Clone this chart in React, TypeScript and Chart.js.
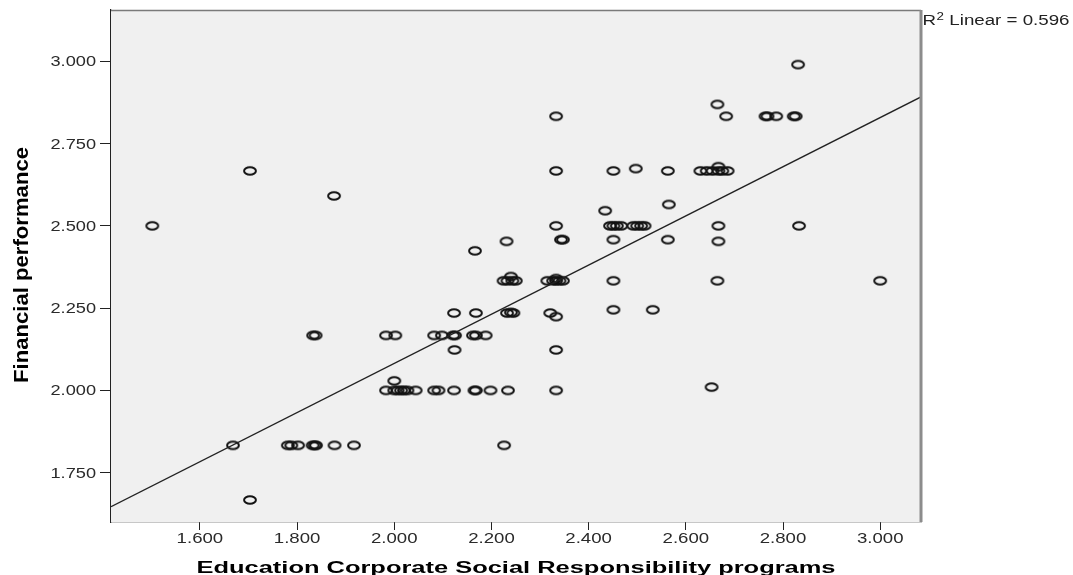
import { useEffect, useRef } from 'react';
import { Chart, registerables } from 'chart.js';

Chart.register(...registerables);

// ---- data ----
const xTickValues = [1.6, 1.8, 2.0, 2.2, 2.4, 2.6, 2.8, 3.0];
const yTickValues = [1.75, 2.0, 2.25, 2.5, 2.75, 3.0];

const xTitle = 'Education Corporate Social Responsibility programs';
const yTitle = 'Financial performance';
const fitLabel = ' Linear = 0.596';

// fitted line: y = fitIntercept + fitSlope * x
const fitIntercept = 0.588;
const fitSlope = 0.747;

const xValues = [
  2.831,
  2.665,
  2.333, 2.683, 2.764, 2.768, 2.786, 2.822, 2.826,
  1.703, 2.333, 2.451, 2.497, 2.563, 2.630, 2.643, 2.655, 2.667, 2.667, 2.675, 2.686,
  1.876, 2.565, 2.434,
  1.502, 2.333, 2.444, 2.451, 2.458, 2.467, 2.492, 2.500, 2.508, 2.515, 2.667, 2.833,
  2.343, 2.347, 2.451, 2.563, 2.667,
  2.231, 2.166,
  2.225, 2.233, 2.240, 2.243, 2.250, 2.315, 2.327, 2.333, 2.333, 2.340, 2.347, 2.451, 2.665, 3.000,
  2.123, 2.168, 2.232, 2.240, 2.245, 2.321, 2.333, 2.451, 2.532,
  1.833, 1.838, 1.983, 2.002, 2.082, 2.098, 2.121, 2.125, 2.162, 2.168, 2.188,
  2.124, 2.333,
  2.000, 2.653,
  1.983, 2.000, 2.007, 2.014, 2.020, 2.027, 2.044, 2.082, 2.091, 2.123, 2.165, 2.168, 2.198, 2.234, 2.333,
  1.668, 1.781, 1.788, 1.802, 1.832, 1.836, 1.839, 1.877, 1.917, 2.226,
  1.703,
];

const yValues = [
  2.990,
  2.869,
  2.833, 2.833, 2.833, 2.833, 2.833, 2.833, 2.833,
  2.667, 2.667, 2.667, 2.674, 2.667, 2.667, 2.667, 2.667, 2.680, 2.667, 2.667, 2.667,
  2.591, 2.565, 2.546,
  2.500, 2.500, 2.500, 2.500, 2.500, 2.500, 2.500, 2.500, 2.500, 2.500, 2.500, 2.500,
  2.458, 2.458, 2.458, 2.458, 2.453,
  2.453, 2.424,
  2.333, 2.333, 2.346, 2.333, 2.333, 2.333, 2.333, 2.333, 2.340, 2.333, 2.333, 2.333, 2.333, 2.333,
  2.235, 2.235, 2.235, 2.237, 2.235, 2.235, 2.224, 2.245, 2.245,
  2.167, 2.167, 2.167, 2.167, 2.167, 2.167, 2.167, 2.167, 2.167, 2.167, 2.167,
  2.123, 2.123,
  2.029, 2.010,
  2.000, 2.000, 2.000, 2.000, 2.000, 2.000, 2.000, 2.000, 2.000, 2.000, 2.000, 2.000, 2.000, 2.000, 2.000,
  1.833, 1.833, 1.833, 1.833, 1.833, 1.833, 1.833, 1.833, 1.833, 1.833,
  1.667,
];

const xMin = 1.417;
const xMax = 3.084;
const yMin = 1.6;
const yMax = 3.156;

const FONT = '"Liberation Sans", Arial, sans-serif';

function makeEllipse(): HTMLCanvasElement {
  const c = document.createElement('canvas');
  c.width = 18;
  c.height = 12;
  const g = c.getContext('2d')!;
  g.strokeStyle = '#121212';
  g.lineWidth = 2;
  g.beginPath();
  g.ellipse(9, 6, 5.9, 3.8, 0, 0, Math.PI * 2);
  g.stroke();
  return c;
}

function drawScaled(
  ctx: CanvasRenderingContext2D,
  text: string,
  x: number,
  y: number,
  font: string,
  sx: number,
  align: CanvasTextAlign,
  color: string
) {
  ctx.save();
  ctx.font = font;
  ctx.fillStyle = color;
  ctx.translate(x, y);
  ctx.scale(sx, 1);
  ctx.textAlign = align;
  ctx.textBaseline = 'alphabetic';
  ctx.fillText(text, 0, 0);
  ctx.restore();
}

const decorPlugin = {
  id: 'decor',
  beforeDatasetsDraw(chart: any) {
    const { ctx, chartArea: a } = chart;
    ctx.save();
    ctx.fillStyle = '#f0f0f0';
    ctx.fillRect(a.left, a.top, a.right - a.left, a.bottom - a.top);
    ctx.restore();
  },
  afterDraw(chart: any) {
    const { ctx, chartArea: a } = chart;
    const xs = chart.scales.x;
    const ys = chart.scales.y;
    ctx.save();
    // top and right frame
    ctx.strokeStyle = '#7a7a7a';
    ctx.lineWidth = 1.5;
    ctx.beginPath();
    ctx.moveTo(a.left, a.top + 0.5);
    ctx.lineTo(a.right, a.top + 0.5);
    ctx.stroke();
    ctx.strokeStyle = '#8c8c8c';
    ctx.lineWidth = 3;
    ctx.beginPath();
    ctx.moveTo(a.right, a.top);
    ctx.lineTo(a.right, a.bottom);
    ctx.stroke();
    ctx.restore();

    const tickFont = `14px ${FONT}`;
    for (const v of xTickValues) {
      drawScaled(ctx, v.toFixed(3), xs.getPixelForValue(v), a.bottom + 21, tickFont, 1.33, 'center', '#2a2a2a');
    }
    for (const v of yTickValues) {
      drawScaled(ctx, v.toFixed(3), a.left - 15, ys.getPixelForValue(v) + 5, tickFont, 1.3, 'right', '#2a2a2a');
    }

    // x title
    ctx.save();
    const xtFont = `bold 16px ${FONT}`;
    ctx.font = xtFont;
    const xtW = ctx.measureText(xTitle).width;
    ctx.restore();
    drawScaled(ctx, xTitle, 516, 572.5, xtFont, 639 / xtW, 'center', '#000');

    // y title (rotated)
    ctx.save();
    const ytFont = `bold 20px ${FONT}`;
    ctx.font = ytFont;
    const ytW = ctx.measureText(yTitle).width;
    ctx.translate(28, 265);
    ctx.rotate(-Math.PI / 2);
    ctx.scale(236 / ytW, 1);
    ctx.fillStyle = '#000';
    ctx.textAlign = 'center';
    ctx.textBaseline = 'alphabetic';
    ctx.fillText(yTitle, 0, 0);
    ctx.restore();

    // R^2 label
    ctx.save();
    const bigF = `14px ${FONT}`;
    const smallF = `10px ${FONT}`;
    ctx.font = bigF;
    const wR = ctx.measureText('R').width;
    const wRest = ctx.measureText(fitLabel).width;
    ctx.font = smallF;
    const w2 = ctx.measureText('2').width;
    const sx = 147 / (wR + w2 + 0.5 + wRest);
    ctx.translate(a.right + 1.5, 25);
    ctx.scale(sx, 1);
    ctx.fillStyle = '#222';
    ctx.textAlign = 'left';
    ctx.textBaseline = 'alphabetic';
    ctx.font = bigF;
    ctx.fillText('R', 0, 0);
    ctx.font = smallF;
    ctx.fillText('2', wR + 0.3, -5);
    ctx.font = bigF;
    ctx.fillText(fitLabel, wR + w2 + 0.5, 0);
    ctx.restore();
  },
};

export default function App() {
  const canvasRef = useRef<HTMLCanvasElement | null>(null);

  useEffect(() => {
    if (!canvasRef.current) return;
    const marker = makeEllipse();
    const points = xValues.map((x, i) => ({ x, y: yValues[i] }));
    const linePts = [
      { x: xMin, y: fitIntercept + fitSlope * xMin },
      { x: xMax, y: fitIntercept + fitSlope * xMax },
    ];
    const chart = new Chart(canvasRef.current, {
      type: 'scatter',
      data: {
        datasets: [
          {
            type: 'line',
            data: linePts,
            borderColor: '#222',
            borderWidth: 1.4,
            pointRadius: 0,
            fill: false,
          } as any,
          {
            type: 'scatter',
            data: points,
            pointStyle: marker as any,
            pointRadius: 6,
            borderColor: '#161616',
            backgroundColor: 'transparent',
          },
        ],
      },
      options: {
        animation: false,
        responsive: true,
        maintainAspectRatio: false,
        layout: { padding: { left: 100, right: 152, top: 10, bottom: 45 } },
        plugins: { legend: { display: false }, tooltip: { enabled: false } },
        scales: {
          x: {
            type: 'linear',
            min: xMin,
            max: xMax,
            afterBuildTicks: (s: any) => {
              s.ticks = xTickValues.map((v) => ({ value: v }));
            },
            ticks: { display: false },
            grid: { drawOnChartArea: false, drawTicks: true, tickLength: 8, color: '#222', lineWidth: 1 },
            border: { display: true, color: '#222', width: 1.2 },
          },
          y: {
            type: 'linear',
            min: yMin,
            max: yMax,
            afterBuildTicks: (s: any) => {
              s.ticks = yTickValues.map((v) => ({ value: v }));
            },
            ticks: { display: false },
            grid: { drawOnChartArea: false, drawTicks: true, tickLength: 11, color: '#222', lineWidth: 1 },
            border: { display: true, color: '#222', width: 1.2 },
          },
        },
      },
      plugins: [decorPlugin],
    });
    return () => chart.destroy();
  }, []);

  return (
    <div style={{ position: 'absolute', left: 0, top: 0, width: 1073, height: 575, background: '#fff' }}>
      <canvas ref={canvasRef} />
    </div>
  );
}
